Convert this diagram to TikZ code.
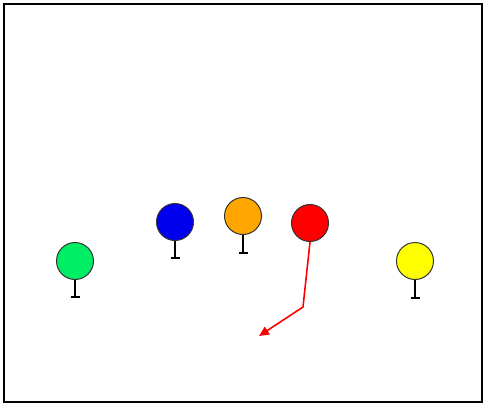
\documentclass[tikz,border=0pt]{standalone}
\usepackage{xcolor}
\usepackage{tikz}
\usetikzlibrary{arrows.meta}

\definecolor{ballgreen}{RGB}{0,238,100}
\definecolor{ballblue}{RGB}{0,0,238}
\definecolor{ballorange}{RGB}{255,165,0}
\definecolor{ballred}{RGB}{255,0,0}
\definecolor{ballyellow}{RGB}{255,255,0}

\begin{document}
\begin{tikzpicture}[x=1pt, y=-1pt,
    ball/.style={circle, draw=black!80, line width=1pt, minimum size=37pt, inner sep=0pt},
    stem/.style={line width=1.5pt},
    route/.style={draw=ballred, line width=1.6pt, -{Triangle[length=10pt,width=9pt]}}]

    \useasboundingbox (0,0) rectangle (483,405);
    \draw[line width=2pt] (4,4) rectangle (482,402);

    \node[ball, fill=ballgreen] (G) at (75,261) {};
    \node[ball, fill=ballblue] (B) at (175,222) {};
    \node[ball, fill=ballorange] (O) at (243,216) {};
    \node[ball, fill=ballred] (R) at (310,223) {};
    \node[ball, fill=ballyellow] (Y) at (415,261) {};

    \coordinate (Gs) at (75,297);
    \coordinate (Bs) at (175,258);
    \coordinate (Os) at (243,253);
    \coordinate (Ys) at (415,298);

    \draw[stem] (G.south) -- (Gs) ++(-4.5,0) -- ++(9,0);
    \draw[stem] (B.south) -- (Bs) ++(-4.5,0) -- ++(9,0);
    \draw[stem] (O.south) -- (Os) ++(-4.5,0) -- ++(9,0);
    \draw[stem] (Y.south) -- (Ys) ++(-4.5,0) -- ++(9,0);

    \coordinate (Rb) at (303,307);
    \coordinate (Rt) at (259,336);
    \draw[route] (R.south) -- (Rb) -- (Rt);
\end{tikzpicture}
\end{document}
